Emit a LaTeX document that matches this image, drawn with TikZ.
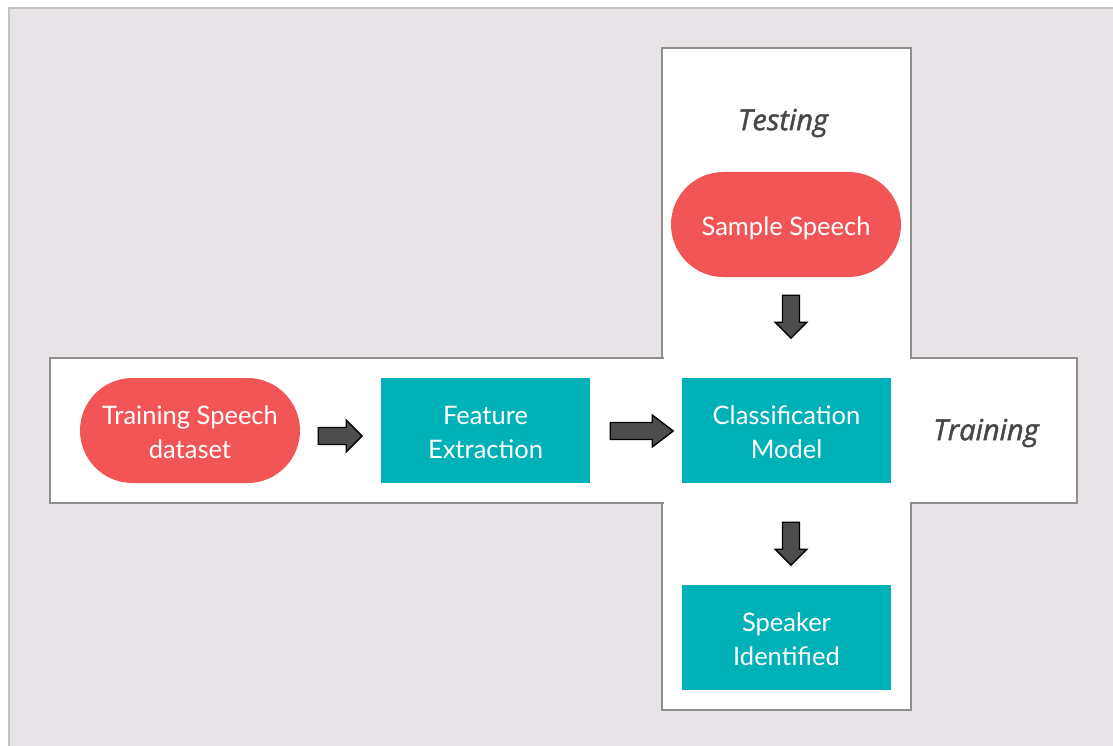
\documentclass[tikz,border=0pt]{standalone}
\usepackage{fontspec}
\setmainfont{Lato}
\newfontfamily\labelfont[FakeBold=1.6]{Open Sans}
\usetikzlibrary{positioning}
\definecolor{pagebg}{HTML}{E8E3E6}
\definecolor{pageedge}{HTML}{C4C2C3}
\definecolor{boxedge}{HTML}{8E8E8E}
\definecolor{speechred}{HTML}{F15556}
\definecolor{procteal}{HTML}{00B1B8}
\definecolor{arrowgray}{HTML}{4D4D4D}
\definecolor{labelgray}{HTML}{484848}
% centred lines, set slightly below the middle of their box
\newcommand\steptext[1]{\raisebox{-4pt}[\height][\depth]{\begin{tabular}{@{}c@{}}#1\end{tabular}}}
\tikzset{
  x=1pt, y=-1pt,
  every node/.style={font=\fontsize{25.5}{34}\selectfont, text=white, inner sep=0pt},
  speech/.style={fill=speechred, rounded corners=52.5pt, minimum height=105pt},
  process/.style={fill=procteal, minimum width=209pt, minimum height=105pt},
  phase/.style={font=\labelfont\itshape\fontsize{29}{34}\selectfont, text=labelgray},
  region/.style={draw=boxedge, line width=1.8pt, fill=white},
  blockarrow/.style={fill=arrowgray, draw=black, line width=1.4pt, line join=miter},
  pics/rarrow/.style 2 args={code={
    \draw[blockarrow] (0,-8.5) -- (#1-#2,-8.5) -- (#1-#2,-16) -- (#1,0)
      -- (#1-#2,16) -- (#1-#2,8.5) -- (0,8.5) -- cycle;}},
  pics/darrow/.style={code={
    \draw[blockarrow] (-8.5,0) -- (-8.5,#1-16) -- (-16,#1-16) -- (0,#1)
      -- (16,#1-16) -- (8.5,#1-16) -- (8.5,0) -- cycle;}},
}
\begin{document}
\begin{tikzpicture}
\useasboundingbox (0,0) rectangle (1113,746);
% page
\fill[white] (0,0) rectangle (1113,746);
\fill[pagebg] (9,8) rectangle (1113,746);
\draw[pageedge, line width=2pt] (9,746) -- (9,8) -- (1113,8);

% testing column and training row, outlined as one cross
\draw[region] (662,48) rectangle (911,710);
\draw[region] (50,358) rectangle (1077,503);
\fill[white] (663.5,49.5) rectangle (909.5,708.5);
\fill[white] (51.5,359.5) rectangle (1075.5,501.5);

% phase labels
\node[phase] (testing) at (783,123) {Testing};
\node[phase] (training) at (986,433) {Training};

% steps
\node[speech, minimum width=230pt] (sample) at (786,224.5) {\steptext{Sample Speech}};
\node[speech, minimum width=220pt] (tsd) at (190,430.5) {\steptext{Training Speech\\dataset}};
\node[process] (fe) at (485.5,430.5) {\steptext{Feature\\Extraction}};
\node[process] (cm) at (786.5,430.5) {\steptext{Classification\\Model}};
\node[process] (si) at (786.5,637.5) {\steptext{Speaker\\Identified}};

% flow arrows
\coordinate (a1) at ([xshift=18pt,yshift=-5.5pt]tsd.east);
\coordinate (a2) at ([xshift=20pt,yshift=-0.5pt]fe.east);
\coordinate (a3) at ([xshift=5pt,yshift=-18pt]sample.south);
\coordinate (a4) at ([xshift=4.5pt,yshift=-39pt]cm.south);
\pic at (a1) {rarrow={44}{16}};
\pic at (a2) {rarrow={63}{21}};
\pic at (a3) {darrow=43};
\pic at (a4) {darrow=43};
\end{tikzpicture}
\end{document}
